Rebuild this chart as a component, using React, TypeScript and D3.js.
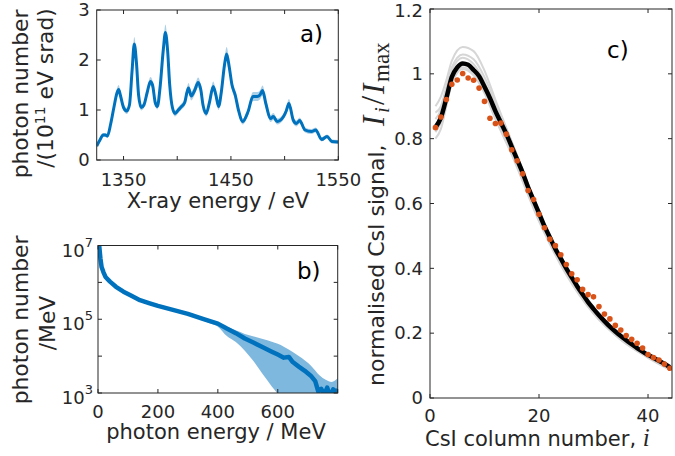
import React from 'react';
import * as d3 from 'd3';

const FONT = '"DejaVu Sans", sans-serif';
const MATH = '"Liberation Serif", serif';
const TXT = '#262626';
const AX = '#262626';
const BLUE = '#0072BD';
const ORANGE = '#D95319';

// ---------- panel a: X-ray spectrum ----------
const aEnergy = [1325,1328,1331,1333,1335,1338,1341,1344,1345.5,1347,1350,1353,1355.5,1358,1360,1362,1364,1366.5,1369,1372,1375,1377,1379.5,1381.5,1384,1387,1389,1391,1393,1395.5,1398,1401,1404,1407,1409,1410.5,1413,1416,1419.5,1422,1424,1427,1430,1433.5,1436,1438.5,1441,1444,1446,1448.5,1451,1454,1457,1461,1466,1470.5,1474.5,1477,1479.5,1482.5,1487,1489.5,1493,1499,1501.5,1504,1508,1511,1514,1519,1525,1529,1534.5,1539.5,1544,1550];
const aPhotons = [0.28,0.40,0.50,0.50,0.48,0.72,1.05,1.35,1.41,1.30,1.05,0.98,1.10,1.80,2.32,1.95,1.30,1.05,1.10,1.35,1.57,1.50,1.15,1.07,1.45,2.20,2.55,2.20,1.50,1.05,0.93,1.00,1.07,1.15,1.35,1.44,1.28,1.38,1.55,1.40,1.10,0.93,1.15,1.47,1.30,1.07,1.35,1.90,2.12,1.85,1.50,1.30,1.00,0.77,0.97,1.27,1.27,1.30,1.39,1.13,0.83,0.87,0.77,0.87,0.98,1.13,0.80,0.73,0.79,0.60,0.57,0.60,0.41,0.47,0.37,0.36];
const aError = [0.04,0.04,0.04,0.04,0.04,0.05,0.06,0.09,0.09,0.08,0.06,0.06,0.06,0.1,0.14,0.11,0.08,0.06,0.06,0.08,0.09,0.09,0.07,0.06,0.09,0.12,0.16,0.12,0.09,0.06,0.06,0.06,0.06,0.07,0.09,0.1,0.09,0.09,0.1,0.09,0.07,0.06,0.07,0.1,0.09,0.07,0.09,0.12,0.14,0.12,0.1,0.09,0.07,0.06,0.07,0.09,0.09,0.09,0.1,0.09,0.07,0.07,0.06,0.06,0.07,0.09,0.07,0.06,0.06,0.05,0.05,0.05,0.04,0.04,0.04,0.04];
const aXTicks = [1350, 1400, 1450, 1500, 1550];
const aXLabels = [1350, 1450, 1550];
const aYTicks = [0, 1, 2, 3];

// ---------- panel b: gamma spectrum ----------
const bEnergy = [0,4,8,12,18,25,40,60,85,110,140,170,200,250,300,350,400,430,460,490,520,550,580,600,620,637,650,670,690,710,725,735,745,755,765,775,785,795,800];
const bPhotons = [2.0e7,1.0e7,4.5e6,2.6e6,1.9e6,1.4e6,1.05e6,7.6e5,5.6e5,4.4e5,3.3e5,2.75e5,2.3e5,1.8e5,1.4e5,1.03e5,7.6e4,5.6e4,4.2e4,3.0e4,2.3e4,1.74e4,1.32e4,1.1e4,9.1e3,9.5e3,6.9e3,5.2e3,4.0e3,2.95e3,2.1e3,1.1e3,1.3e3,8.9e2,1.4e3,8.0e2,1.25e3,8.9e2,1.3e3];
const bBandEnergy = [340,370,400,430,460,490,520,550,580,600,620,650,680,710,740,760,780,800];
const bBandUpper = [1.15e5,9.3e4,7.9e4,6.3e4,5.0e4,4.0e4,3.4e4,2.9e4,2.45e4,2.15e4,1.8e4,1.3e4,8.9e3,5.6e3,3.0e3,2.3e3,2.0e3,2.5e3];
const bBandLower = [1.0e5,7.9e4,6.3e4,3.5e4,2.4e4,1.4e4,7.1e3,3.2e3,1.5e3,8.9e2,3e2,3e2,3e2,3e2,3e2,3e2,3e2,3e2];
const bXTicks = [0, 200, 400, 600, 800];
const bXLabels = [0, 200, 400, 600];
const bYTicks = [1e3, 1e4, 1e5, 1e6, 1e7];
const bYLabels = [3, 5, 7];

// ---------- panel c: CsI signal ----------
const cColumn = d3.range(1, 45);
const cMeasured = [0.834,0.867,0.921,0.968,0.981,1.001,0.987,0.980,0.956,0.915,0.863,0.847,0.848,0.814,0.766,0.732,0.692,0.640,0.612,0.567,0.525,0.490,0.470,0.442,0.412,0.383,0.365,0.335,0.319,0.312,0.282,0.259,0.244,0.224,0.210,0.193,0.181,0.169,0.154,0.134,0.125,0.117,0.105,0.092];
const cModel = [0.835,0.865,0.925,0.99,1.02,1.032,1.028,1.012,0.993,0.96,0.925,0.885,0.85,0.815,0.775,0.735,0.695,0.65,0.61,0.57,0.53,0.495,0.46,0.43,0.40,0.372,0.345,0.32,0.296,0.275,0.255,0.237,0.22,0.205,0.191,0.178,0.166,0.154,0.143,0.133,0.124,0.115,0.106,0.095];
const cGrayColumn = [1,2,3,4,6,8,10,12,15,20,25,30,35,40,44];
const cGray1 = [0.90,0.93,0.98,1.04,1.083,1.07,1.01,0.92,0.79,0.575,0.40,0.272,0.188,0.130,0.092];
const cGray2 = [0.80,0.83,0.90,0.97,1.015,0.995,0.94,0.86,0.75,0.545,0.38,0.26,0.18,0.125,0.088];
const cGray3 = [0.86,0.89,0.95,1.01,1.05,1.03,0.975,0.895,0.78,0.565,0.39,0.265,0.183,0.127,0.09];
const cGray4 = [0.82,0.85,0.91,0.975,1.02,1.0,0.945,0.865,0.755,0.55,0.385,0.262,0.18,0.124,0.087];
const cGray5 = [0.88,0.90,0.96,1.02,1.06,1.045,0.99,0.91,0.79,0.575,0.40,0.273,0.19,0.131,0.093];
const cGrays = [cGray1, cGray2, cGray3, cGray4, cGray5];
const cXTicks = [0, 20, 40];
const cYTicks = [0, 0.2, 0.4, 0.6, 0.8, 1, 1.2];

type Box = { l: number; r: number; t: number; b: number };
const boxA: Box = { l: 96.7, r: 338.3, t: 10, b: 160 };
const boxB: Box = { l: 98, r: 337.7, t: 245.5, b: 393 };
const boxC: Box = { l: 430, r: 672, t: 9, b: 398 };
const TL = 4;

function Frame({ box, xs, ys, xTicks, yTicks }: any) {
  return (
    <g stroke={AX} strokeWidth={1} fill="none">
      <rect x={box.l} y={box.t} width={box.r - box.l} height={box.b - box.t} />
      {xTicks.map((t: number, i: number) => (
        <g key={'x' + i}>
          <line x1={xs(t)} x2={xs(t)} y1={box.b} y2={box.b - TL} />
          <line x1={xs(t)} x2={xs(t)} y1={box.t} y2={box.t + TL} />
        </g>
      ))}
      {yTicks.map((t: number, i: number) => (
        <g key={'y' + i}>
          <line x1={box.l} x2={box.l + TL} y1={ys(t)} y2={ys(t)} />
          <line x1={box.r} x2={box.r - TL} y1={ys(t)} y2={ys(t)} />
        </g>
      ))}
    </g>
  );
}

export default function App() {
  const xa = d3.scaleLinear().domain([1325, 1550]).range([boxA.l, boxA.r]);
  const ya = d3.scaleLinear().domain([0, 3]).range([boxA.b, boxA.t]);
  const xb = d3.scaleLinear().domain([0, 800]).range([boxB.l, boxB.r]);
  const yb = d3.scaleLog().domain([1e3, 1e7]).range([boxB.b, boxB.t]);
  const xc = d3.scaleLinear().domain([0, 44.4]).range([boxC.l, boxC.r]);
  const yc = d3.scaleLinear().domain([0, 1.2]).range([boxC.b, boxC.t]);

  const aIdx = d3.range(aEnergy.length);
  const aLine = d3.line<number>().x(i => xa(aEnergy[i])).y(i => ya(aPhotons[i])).curve(d3.curveMonotoneX)(aIdx) || '';
  const aBand = d3.area<number>().x(i => xa(aEnergy[i]))
    .y0(i => ya(aPhotons[i] - aError[i])).y1(i => ya(aPhotons[i] + aError[i]))
    .curve(d3.curveMonotoneX)(aIdx) || '';

  const bIdx = d3.range(bEnergy.length);
  const bLine = d3.line<number>().x(i => xb(bEnergy[i])).y(i => yb(bPhotons[i]))(bIdx) || '';
  const bbIdx = d3.range(bBandEnergy.length);
  const bBand = d3.area<number>().x(i => xb(bBandEnergy[i]))
    .y0(i => yb(bBandLower[i])).y1(i => yb(bBandUpper[i]))
    .curve(d3.curveMonotoneX)(bbIdx) || '';

  const cIdx = d3.range(cColumn.length);
  const cLine = d3.line<number>().x(i => xc(cColumn[i])).y(i => yc(cModel[i])).curve(d3.curveMonotoneX)(cIdx) || '';
  const gIdx = d3.range(cGrayColumn.length);
  const grayPaths = cGrays.map(g =>
    d3.line<number>().x(i => xc(cGrayColumn[i])).y(i => yc(g[i])).curve(d3.curveMonotoneX)(gIdx) || '');

  const tickStyle = { fontFamily: FONT, fontSize: 18, fill: TXT } as any;
  const xLabStyle = { fontFamily: FONT, fontSize: 21, fill: TXT } as any;
  const yLabStyle = { fontFamily: FONT, fontSize: 21.8, fill: TXT } as any;
  const panelStyle = { fontFamily: FONT, fontSize: 23, fill: '#000' } as any;
  const mathIt = { fontFamily: MATH, fontStyle: 'italic', fill: TXT } as any;
  const mathUp = { fontFamily: MATH, fontStyle: 'normal', fill: TXT } as any;

  return (
    <svg width={675} height={456} style={{ position: 'absolute', left: 0, top: 0, background: '#fff' }}>
      <defs>
        <clipPath id="clipA"><rect x={boxA.l} y={boxA.t} width={boxA.r - boxA.l} height={boxA.b - boxA.t} /></clipPath>
        <clipPath id="clipB"><rect x={boxB.l} y={boxB.t} width={boxB.r - boxB.l} height={boxB.b - boxB.t} /></clipPath>
        <clipPath id="clipC"><rect x={boxC.l} y={boxC.t} width={boxC.r - boxC.l} height={boxC.b - boxC.t} /></clipPath>
      </defs>
      <rect x={0} y={0} width={675} height={456} fill="#fff" />

      {/* ---- panel a ---- */}
      <g clipPath="url(#clipA)">
        <path d={aBand} fill={BLUE} fillOpacity={0.33} />
        <path d={aLine} fill="none" stroke={BLUE} strokeWidth={3} strokeLinejoin="round" />
      </g>
      <Frame box={boxA} xs={xa} ys={ya} xTicks={aXTicks} yTicks={aYTicks} />
      {aXLabels.map(t => (
        <text key={t} x={xa(t)} y={186} textAnchor="middle" style={tickStyle}>{t}</text>
      ))}
      {aYTicks.map(t => (
        <text key={t} x={boxA.l - 7} y={ya(t)} dy="0.35em" textAnchor="end" style={tickStyle}>{t}</text>
      ))}
      <text x={218} y={207.5} textAnchor="middle" style={xLabStyle}>X-ray energy / eV</text>
      <text transform="translate(28,94) rotate(-90)" textAnchor="middle" style={yLabStyle}>photon number</text>
      <text transform="translate(53,88) rotate(-90)" textAnchor="middle" style={yLabStyle}>
        /(10<tspan dy={-8} fontSize={14}>11</tspan><tspan dy={8}> eV srad)</tspan>
      </text>
      <text x={300} y={42} style={panelStyle}>a)</text>

      {/* ---- panel b ---- */}
      <g clipPath="url(#clipB)">
        <path d={bBand} fill={BLUE} fillOpacity={0.5} />
        <path d={bLine} fill="none" stroke={BLUE} strokeWidth={4.5} strokeLinejoin="round" />
      </g>
      <Frame box={boxB} xs={xb} ys={yb} xTicks={bXTicks} yTicks={bYTicks} />
      {bXLabels.map(t => (
        <text key={t} x={xb(t)} y={418} textAnchor="middle" style={tickStyle}>{t}</text>
      ))}
      {bYLabels.map(p => (
        <text key={p} x={boxB.l - 5} y={yb(Math.pow(10, p)) + 11} textAnchor="end" style={tickStyle}>
          10<tspan dy={-10} fontSize={13}>{p}</tspan>
        </text>
      ))}
      <text x={216} y={439} textAnchor="middle" style={xLabStyle}>photon energy / MeV</text>
      <text transform="translate(28,320) rotate(-90)" textAnchor="middle" style={yLabStyle}>photon number</text>
      <text transform="translate(55,323) rotate(-90)" textAnchor="middle" style={yLabStyle}>/MeV</text>
      <text x={297} y={279} style={panelStyle}>b)</text>

      {/* ---- panel c ---- */}
      <g clipPath="url(#clipC)">
        {grayPaths.map((d, i) => (
          <path key={i} d={d} fill="none" stroke="#d6d6d6" strokeWidth={2} />
        ))}
        <path d={cLine} fill="none" stroke="#000" strokeWidth={4.5} strokeLinejoin="round" />
        {cIdx.map(i => (
          <circle key={i} cx={xc(cColumn[i])} cy={yc(cMeasured[i])} r={2.8} fill={ORANGE} />
        ))}
      </g>
      <Frame box={boxC} xs={xc} ys={yc} xTicks={cXTicks} yTicks={cYTicks} />
      {cXTicks.map(t => (
        <text key={t} x={xc(t)} y={421.5} textAnchor="middle" style={tickStyle}>{t}</text>
      ))}
      {cYTicks.map(t => (
        <text key={t} x={423} y={yc(t)} dy={t === 1.2 ? '0.45em' : '0.35em'} textAnchor="end" style={tickStyle}>{d3.format('~g')(t)}</text>
      ))}
      <text x={425} y={446} textAnchor="start" style={xLabStyle}>
        CsI column number, <tspan style={{ ...mathIt, fontSize: 25 }}>i</tspan>
      </text>
      <g transform="translate(384,0) rotate(-90)">
        <text x={-386} y={0} textAnchor="start" style={{ fontFamily: FONT, fontSize: 22, fill: TXT }}>
          normalised CsI signal,
        </text>
        <text x={-126} y={0} style={{ ...mathIt, fontSize: 31 }}>I</text>
        <text x={-113} y={5} style={{ ...mathIt, fontSize: 21 }}>i</text>
        <text x={-105} y={0} style={{ ...mathUp, fontSize: 33 }}>/</text>
        <text x={-94} y={0} style={{ ...mathIt, fontSize: 31 }}>I</text>
        <text x={-82} y={5} style={{ ...mathUp, fontSize: 23 }}>max</text>
      </g>
      <text x={607} y={58} style={panelStyle}>c)</text>
    </svg>
  );
}
